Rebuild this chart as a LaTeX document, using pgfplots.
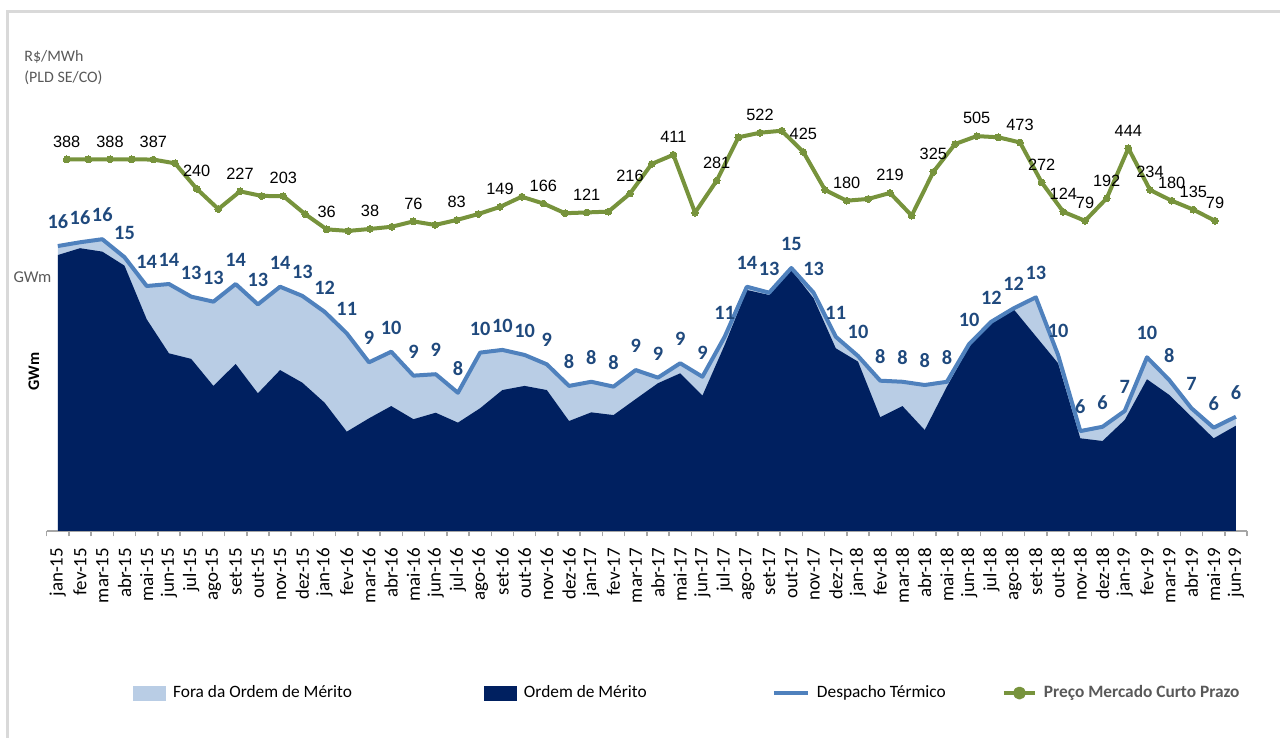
\documentclass[border=0pt]{standalone}
\usepackage{fontspec}
\setmainfont{Carlito}
\newfontfamily\arialf{Liberation Sans}
\usepackage{pgfplots}
\usepackage{pgfplotstable}
\pgfplotsset{compat=1.18}

\definecolor{navy}{RGB}{0,32,96}
\definecolor{lightb}{RGB}{185,205,229}
\definecolor{lineb}{RGB}{79,129,189}
\definecolor{lblb}{RGB}{31,73,125}
\definecolor{pgreen}{RGB}{119,147,60}
\definecolor{txtgray}{RGB}{89,89,89}
\definecolor{framec}{RGB}{217,217,217}
\definecolor{axgray}{RGB}{166,166,166}

% despacho termico (T), ordem de merito (D), GWm
\pgfplotstableread{
x T D lab
0 15.83 15.33 16
1 16.04 15.71 16
2 16.21 15.52 16
3 15.21 14.74 15
4 13.61 11.76 14
5 13.72 9.87 14
6 13.02 9.56 13
7 12.74 8.06 13
8 13.72 9.28 14
9 12.59 7.65 13
10 13.57 8.94 14
11 13.06 8.24 13
12 12.18 7.13 12
13 10.98 5.52 11
14 9.37 6.26 9
15 9.96 6.94 10
16 8.63 6.21 9
17 8.71 6.57 9
18 7.68 6.02 8
19 9.91 6.82 10
20 10.06 7.83 10
21 9.78 8.06 10
22 9.26 7.83 9
23 8.06 6.11 8
24 8.29 6.59 8
25 8.02 6.44 8
26 8.94 7.33 9
27 8.52 8.21 9
28 9.32 8.76 9
29 8.57 7.52 9
30 10.79 10.33 11
31 13.57 13.39 14
32 13.24 13.11 13
33 14.61 14.50 15
34 13.24 12.93 13
35 10.79 10.15 11
36 9.72 9.41 10
37 8.35 6.32 8
38 8.29 6.94 8
39 8.11 5.61 8
40 8.29 8.02 8
41 10.39 10.24 10
42 11.63 11.54 12
43 12.37 12.32 12
44 12.98 10.82 13
45 9.78 9.32 10
46 5.55 5.15 6
47 5.79 5.00 6
48 6.67 6.17 7
49 9.65 8.43 10
50 8.39 7.56 8
51 6.82 6.35 7
52 5.74 5.15 6
53 6.35 5.85 6
}\gw

% PLD SE/CO, R$/MWh
\pgfplotstableread{
x p lab
0 388 388
1 388 {}
2 388 388
3 388 {}
4 387 387
5 368 {}
6 240 240
7 138 {}
8 227 227
9 204 {}
10 203 203
11 113 {}
12 36 36
13 28 {}
14 38 38
15 49 {}
16 76 76
17 58 {}
18 83 83
19 113 {}
20 149 149
21 200 {}
22 166 166
23 117 {}
24 121 121
25 125 {}
26 216 216
27 365 {}
28 411 411
29 120 {}
30 281 281
31 499 {}
32 522 522
33 532 {}
34 425 425
35 234 {}
36 180 180
37 189 {}
38 219 219
39 105 {}
40 325 325
41 465 {}
42 505 505
43 499 {}
44 473 473
45 272 272
46 124 124
47 79 79
48 192 192
49 444 444
50 234 234
51 180 180
52 135 135
53 79 79
}\pld

\begin{document}
\begin{tikzpicture}
\useasboundingbox (0,0) rectangle (640bp,369bp);
\draw[framec, line width=1.5bp] (3.65bp,0) -- (3.65bp,363.15bp) -- (640bp,363.15bp);

\node[anchor=west, text=txtgray, inner sep=0, font=\fontsize{8}{9}\selectfont] at (12bp,340.35bp) {R\$/MWh};
\node[anchor=west, text=txtgray, inner sep=0, font=\fontsize{8}{9}\selectfont] at (12bp,330.35bp) {(PLD SE/CO)};
\node[text=txtgray, inner sep=0, font=\fontsize{8.3}{9}\selectfont] at (16.25bp,230.35bp) {GWm};
\node[rotate=90, inner sep=0, font=\bfseries\fontsize{8.1}{9}\selectfont] at (17bp,183.25bp) {GWm};

\begin{axis}[
  at={(23.35bp,103.5bp)}, anchor=south west,
  width=600.15bp, height=215.5bp, scale only axis,
  xmin=-0.5, xmax=53.5, ymin=0, ymax=23.944,
  axis y line=none,
  axis x line*=bottom,
  x axis line style={draw=axgray, line width=0.75bp, -},
  xtick={0,...,53},
  xticklabels={jan-15,fev-15,mar-15,abr-15,mai-15,jun-15,jul-15,ago-15,set-15,out-15,nov-15,dez-15,
    jan-16,fev-16,mar-16,abr-16,mai-16,jun-16,jul-16,ago-16,set-16,out-16,nov-16,dez-16,
    jan-17,fev-17,mar-17,abr-17,mai-17,jun-17,jul-17,ago-17,set-17,out-17,nov-17,dez-17,
    jan-18,fev-18,mar-18,abr-18,mai-18,jun-18,jul-18,ago-18,set-18,out-18,nov-18,dez-18,
    jan-19,fev-19,mar-19,abr-19,mai-19,jun-19},
  minor xtick={-0.5,0.5,...,53.5},
  major tick length=0pt, minor tick length=2.75bp,
  tick align=outside,
  minor tick style={draw=axgray, line width=0.75bp},
  xticklabel style={rotate=90, anchor=east, inner sep=0pt, font=\fontsize{9.5}{10}\selectfont},
  xticklabel shift=8.25bp,
]
\addplot[fill=lightb, draw=none] table[x=x, y=T]{\gw} \closedcycle;
\addplot[fill=navy, draw=none] table[x=x, y=D]{\gw} \closedcycle;
\addplot[lineb, line width=2bp, line join=round,
  nodes near coords, point meta=explicit symbolic,
  every node near coord/.append style={anchor=south, inner sep=0pt, yshift=7.7bp,
    text=lblb, font=\bfseries\fontsize{10.2}{10.2}\selectfont}]
  table[x=x, y=T, meta=lab]{\gw};
\end{axis}

\begin{axis}[
  at={(23.35bp,103.5bp)}, anchor=south west,
  width=600.15bp, height=215.5bp, scale only axis,
  xmin=-0.923, xmax=54.476, ymin=-1481.4, ymax=686.6,
  hide axis,
  legend columns=4,
  legend style={at={(0.0719,-0.3759)}, anchor=west, draw=none, fill=none, inner sep=0pt,
    font=\fontsize{8.7}{9}\selectfont, nodes={inner sep=0pt},
    /tikz/every odd column/.append style={column sep=3.5bp}},
]
\addlegendimage{legend image code/.code={\fill[lightb] (0bp,-3.5bp) rectangle (16bp,3.5bp);}}
\addlegendentry{\makebox[155.5bp][l]{Fora da Ordem de Mérito}}
\addlegendimage{legend image code/.code={\fill[navy] (0bp,-3.5bp) rectangle (16bp,3.5bp);}}
\addlegendentry{\makebox[124bp][l]{Ordem de Mérito}}
\addlegendimage{legend image code/.code={\draw[lineb, line width=2bp] (0bp,0bp) -- (17bp,0bp);}}
\addlegendentry{\makebox[92.5bp][l]{Despacho Térmico}}
\addplot[pgreen, line width=2bp, line join=round, mark=*, mark size=1.7bp,
  mark options={fill=pgreen, draw=pgreen, line width=0pt},
  legend image code/.code={\draw[pgreen, line width=2bp] (0bp,0bp) -- (15.5bp,0bp);
    \fill[pgreen] (7.75bp,0bp) circle (2.2bp);},
  nodes near coords, point meta=explicit symbolic,
  every node near coord/.append style={anchor=south, inner sep=0pt, yshift=6bp,
    text=black, font=\arialf\fontsize{8.2}{8.2}\selectfont}]
  table[x=x, y=p, meta=lab]{\pld};
\addlegendentry{\textcolor{txtgray}{\bfseries Preço Mercado Curto Prazo}}
\end{axis}
\end{tikzpicture}
\end{document}
